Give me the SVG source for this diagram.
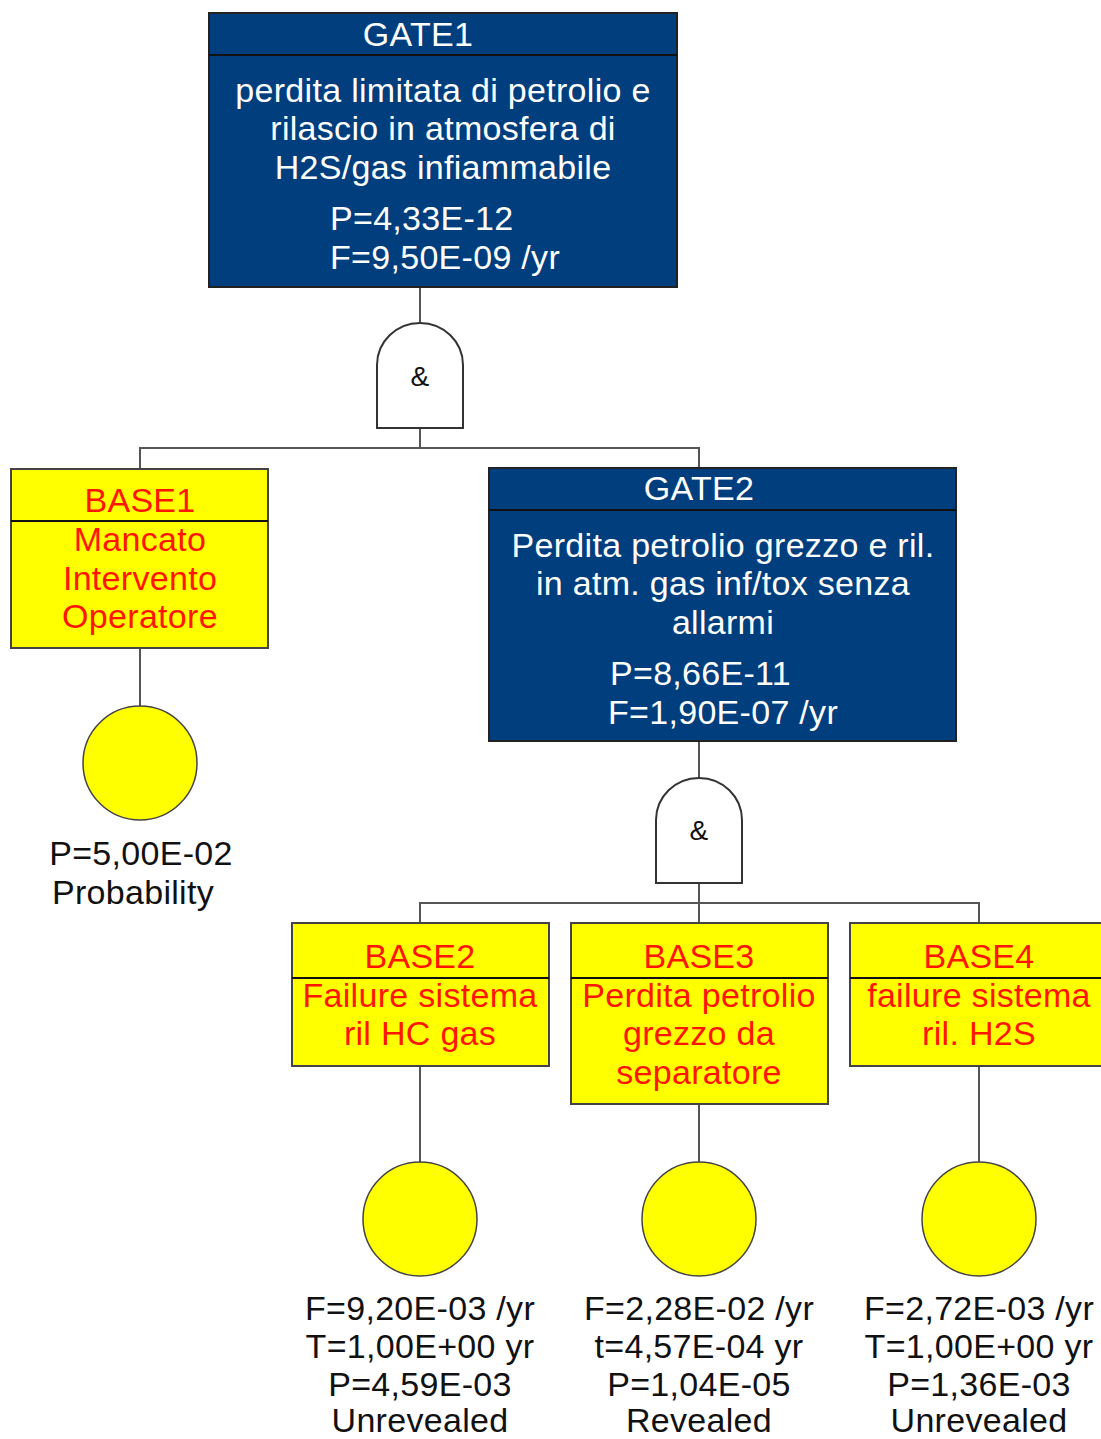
<svg xmlns="http://www.w3.org/2000/svg" width="1101" height="1439" viewBox="0 0 1101 1439">
<style>
text{font-family:"Liberation Sans",Arial,sans-serif;font-size:34px;letter-spacing:0.3px;}
.gb{fill:#003e7e;stroke:#222;stroke-width:2;}
.hd{stroke:#111;stroke-width:2;}
.wt{fill:#fff;}
.bb{fill:#ffff00;stroke:#444;stroke-width:2;}
.rt{fill:#ff1500;text-anchor:middle;}
.c{text-anchor:middle;}
.bk{fill:#111;}
.ev{fill:#ffff00;stroke:#444;stroke-width:1.5;}
.gt{fill:#fff;stroke:#333;stroke-width:2;}
.ln{fill:none;stroke:#555;stroke-width:2;}
</style>
<g id="connectors">
<path class="ln" d="M420,287V323M420,428V448H140V469M420,448H699V468"/>
<path class="ln" d="M140,648V706"/>
<path class="ln" d="M699,741V777M699,883V903H420V923M699,903H979V923M699,903V923"/>
<path class="ln" d="M420,1066V1162M699,1104V1162M979,1066V1162"/>
</g>
<g id="GATE1">
<rect class="gb" x="209" y="13" width="468" height="274"/>
<line class="hd" x1="209" y1="55" x2="677" y2="55"/>
<text class="wt c" x="418" y="46">GATE1</text>
<text class="wt c" x="443" y="102">perdita limitata di petrolio e</text>
<text class="wt c" x="443" y="140">rilascio in atmosfera di</text>
<text class="wt c" x="443" y="179">H2S/gas infiammabile</text>
<text class="wt" x="330" y="230">P=4,33E-12</text>
<text class="wt" x="330" y="269">F=9,50E-09 /yr</text>
</g>
<g id="AND1">
<path class="gt" d="M377,428V365A43,42 0 0 1 463,365V428Z"/>
<text class="c bk" x="420" y="386" style="font-size:28px">&amp;</text>
</g>
<g id="BASE1">
<rect class="bb" x="11" y="469" width="257" height="179"/>
<line class="hd" x1="11" y1="521" x2="268" y2="521"/>
<text class="rt" x="140" y="512">BASE1</text>
<text class="rt" x="140" y="551">Mancato</text>
<text class="rt" x="140" y="590">Intervento</text>
<text class="rt" x="140" y="628">Operatore</text>
<circle class="ev" cx="140" cy="763" r="57"/>
<text class="c bk" x="141" y="865">P=5,00E-02</text>
<text class="c bk" x="133" y="904">Probability</text>
</g>
<g id="GATE2">
<rect class="gb" x="489" y="468" width="467" height="273"/>
<line class="hd" x1="489" y1="510" x2="956" y2="510"/>
<text class="wt c" x="699" y="500">GATE2</text>
<text class="wt c" x="723" y="557">Perdita petrolio grezzo e ril.</text>
<text class="wt c" x="723" y="595">in atm. gas inf/tox senza</text>
<text class="wt c" x="723" y="634">allarmi</text>
<text class="wt" x="610" y="685">P=8,66E-11</text>
<text class="wt" x="608" y="724">F=1,90E-07 /yr</text>
</g>
<g id="AND2">
<path class="gt" d="M656,883V820A43,42 0 0 1 742,820V883Z"/>
<text class="c bk" x="699" y="840" style="font-size:28px">&amp;</text>
</g>
<g id="BASE2">
<rect class="bb" x="292" y="923" width="257" height="143"/>
<line class="hd" x1="292" y1="978" x2="549" y2="978"/>
<text class="rt" x="420" y="968">BASE2</text>
<text class="rt" x="420" y="1007">Failure sistema</text>
<text class="rt" x="420" y="1045">ril HC gas</text>
<circle class="ev" cx="420" cy="1219" r="57"/>
<text class="c bk" x="420" y="1320">F=9,20E-03 /yr</text>
<text class="c bk" x="420" y="1358">T=1,00E+00 yr</text>
<text class="c bk" x="420" y="1396">P=4,59E-03</text>
<text class="c bk" x="420" y="1432">Unrevealed</text>
</g>
<g id="BASE3">
<rect class="bb" x="571" y="923" width="257" height="181"/>
<line class="hd" x1="571" y1="978" x2="828" y2="978"/>
<text class="rt" x="699" y="968">BASE3</text>
<text class="rt" x="699" y="1007">Perdita petrolio</text>
<text class="rt" x="699" y="1045">grezzo da</text>
<text class="rt" x="699" y="1084">separatore</text>
<circle class="ev" cx="699" cy="1219" r="57"/>
<text class="c bk" x="699" y="1320">F=2,28E-02 /yr</text>
<text class="c bk" x="699" y="1358">t=4,57E-04 yr</text>
<text class="c bk" x="699" y="1396">P=1,04E-05</text>
<text class="c bk" x="699" y="1432">Revealed</text>
</g>
<g id="BASE4">
<rect class="bb" x="850" y="923" width="257" height="143"/>
<line class="hd" x1="850" y1="978" x2="1107" y2="978"/>
<text class="rt" x="979" y="968">BASE4</text>
<text class="rt" x="979" y="1007">failure sistema</text>
<text class="rt" x="979" y="1045">ril. H2S</text>
<circle class="ev" cx="979" cy="1219" r="57"/>
<text class="c bk" x="979" y="1320">F=2,72E-03 /yr</text>
<text class="c bk" x="979" y="1358">T=1,00E+00 yr</text>
<text class="c bk" x="979" y="1396">P=1,36E-03</text>
<text class="c bk" x="979" y="1432">Unrevealed</text>
</g>
</svg>
